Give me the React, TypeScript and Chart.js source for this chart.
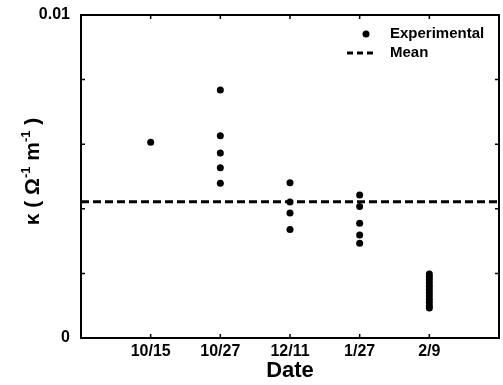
import React, { useEffect, useRef } from 'react';
import { Chart, registerables } from 'chart.js';

Chart.register(...registerables);

const dates = ['10/15', '10/27', '12/11', '1/27', '2/9'];
const k1015 = [0.00606];
const k1027 = [0.00768, 0.00626, 0.00573, 0.00527, 0.00479];
const k1211 = [0.00481, 0.00421, 0.00387, 0.00336];
const k0127 = [0.00443, 0.00407, 0.00355, 0.00319, 0.00293];
const k0209 = [0.00198, 0.0019, 0.0018, 0.0017, 0.0016, 0.0015, 0.0014, 0.0013, 0.0012, 0.0011, 0.001, 0.00093];
const meanK = 0.00422;
const yTickValues = [0, 0.002, 0.004, 0.006, 0.008, 0.01];
const yTickLabels = ['0', '', '', '', '', '0.01'];
const xRange = [0, 6];
const yTitleParts = [
  { text: 'κ ( Ω', sup: false },
  { text: '-1', sup: true },
  { text: ' m', sup: false },
  { text: '-1', sup: true },
  { text: ' )', sup: false },
];

const FONT = '"Liberation Sans", Arial, Helvetica, sans-serif';

const groups = [k1015, k1027, k1211, k0127, k0209];

const framePlugin = {
  id: 'frameTicks',
  afterDatasetsDraw(chart: any) {
    const { ctx, chartArea: a, scales } = chart;
    const xs = scales.x;
    const ys = scales.y;
    const len = 4;
    ctx.save();
    ctx.strokeStyle = '#000';
    ctx.lineWidth = 2;
    ctx.strokeRect(a.left, a.top, a.right - a.left, a.bottom - a.top);
    ctx.lineWidth = 1.5;
    ctx.beginPath();
    dates.forEach((_, i) => {
      const px = xs.getPixelForValue(i + 1);
      ctx.moveTo(px, a.bottom);
      ctx.lineTo(px, a.bottom - len);
      ctx.moveTo(px, a.top);
      ctx.lineTo(px, a.top + len);
    });
    yTickValues.slice(1, -1).forEach((v) => {
      const py = ys.getPixelForValue(v);
      ctx.moveTo(a.left, py);
      ctx.lineTo(a.left + len, py);
      ctx.moveTo(a.right, py);
      ctx.lineTo(a.right - len, py);
    });
    ctx.stroke();
    ctx.restore();
  },
};

const yTitlePlugin = {
  id: 'yTitle',
  afterDraw(chart: any) {
    const { ctx, chartArea: a } = chart;
    const big = `bold 21px ${FONT}`;
    const small = `bold 13px ${FONT}`;
    ctx.save();
    ctx.fillStyle = '#000';
    ctx.textBaseline = 'alphabetic';
    ctx.textAlign = 'left';
    let total = 0;
    yTitleParts.forEach((p) => {
      ctx.font = p.sup ? small : big;
      total += ctx.measureText(p.text).width;
    });
    const cy = (a.top + a.bottom) / 2 - 5;
    ctx.translate(39, cy);
    ctx.rotate(-Math.PI / 2);
    let x = -total / 2;
    yTitleParts.forEach((p) => {
      ctx.font = p.sup ? small : big;
      ctx.fillText(p.text, x, p.sup ? -9 : 0);
      x += ctx.measureText(p.text).width;
    });
    ctx.restore();
  },
};

const legendPlugin = {
  id: 'innerLegend',
  afterDraw(chart: any) {
    const { ctx, chartArea: a } = chart;
    const ds = chart.data.datasets;
    ctx.save();
    ctx.font = `bold 15px ${FONT}`;
    ctx.fillStyle = '#000';
    ctx.textBaseline = 'middle';
    ctx.textAlign = 'left';
    const textX = a.right - 109;
    const row1 = a.top + 19;
    const row2 = a.top + 38;
    ctx.beginPath();
    ctx.arc(a.right - 133, row1, 3.5, 0, Math.PI * 2);
    ctx.fill();
    ctx.fillText(ds[0].label, textX, row1);
    ctx.strokeStyle = '#000';
    ctx.lineWidth = 3;
    ctx.setLineDash([6, 4]);
    ctx.beginPath();
    ctx.moveTo(a.right - 152, row2);
    ctx.lineTo(a.right - 124, row2);
    ctx.stroke();
    ctx.setLineDash([]);
    ctx.fillText(ds[1].label, textX, row2);
    ctx.restore();
  },
};

export default function App() {
  const ref = useRef<HTMLCanvasElement | null>(null);

  useEffect(() => {
    if (!ref.current) return;
    const points: { x: number; y: number }[] = [];
    groups.forEach((g, i) => g.forEach((v) => points.push({ x: i + 1, y: v })));

    const chart = new Chart(ref.current, {
      type: 'scatter',
      data: {
        datasets: [
          {
            label: 'Experimental',
            data: points,
            pointRadius: 3.5,
            pointBackgroundColor: '#000',
            pointBorderWidth: 0,
            backgroundColor: '#000',
          },
          {
            type: 'line',
            label: 'Mean',
            data: [
              { x: xRange[0], y: meanK },
              { x: xRange[1], y: meanK },
            ],
            borderColor: '#000',
            borderWidth: 3,
            borderDash: [8, 4],
            pointRadius: 0,
            fill: false,
          } as any,
        ],
      },
      options: {
        responsive: false,
        animation: false,
        layout: { padding: { left: 0, right: 4, top: 15, bottom: 0 } },
        plugins: {
          legend: { display: false },
          tooltip: { enabled: false },
        },
        scales: {
          x: {
            type: 'linear',
            min: xRange[0],
            max: xRange[1],
            afterBuildTicks: (s: any) => {
              s.ticks = dates.map((_, i) => ({ value: i + 1 }));
            },
            afterFit: (s: any) => {
              s.height = 47;
              s.paddingLeft = 0;
              s.paddingRight = 0;
            },
            grid: { display: false, drawTicks: false },
            border: { display: false },
            ticks: {
              color: '#000',
              padding: 4,
              maxRotation: 0,
              autoSkip: false,
              font: { family: FONT, size: 16, weight: 'bold' },
              callback: (v: any) => dates[Math.round(Number(v)) - 1] ?? '',
            },
            title: {
              display: true,
              text: 'Date',
              color: '#000',
              padding: { top: 0, bottom: 1 },
              font: { family: FONT, size: 22, weight: 'bold' },
            },
          },
          y: {
            type: 'linear',
            min: 0,
            max: 0.01,
            afterBuildTicks: (s: any) => {
              s.ticks = yTickValues.map((v) => ({ value: v }));
            },
            afterFit: (s: any) => {
              s.width = 81;
              s.paddingTop = 0;
              s.paddingBottom = 0;
            },
            grid: { display: false, drawTicks: false },
            border: { display: false },
            ticks: {
              color: '#000',
              padding: 11,
              autoSkip: false,
              font: { family: FONT, size: 16, weight: 'bold' },
              callback: (_v: any, i: number) => yTickLabels[i],
            },
          },
        },
      },
      plugins: [framePlugin, legendPlugin, yTitlePlugin],
    });
    return () => chart.destroy();
  }, []);

  return (
    <div style={{ position: 'fixed', left: 0, top: 0, width: 503, height: 385, background: '#fff' }}>
      <canvas ref={ref} width={503} height={385} style={{ display: 'block' }} />
    </div>
  );
}
